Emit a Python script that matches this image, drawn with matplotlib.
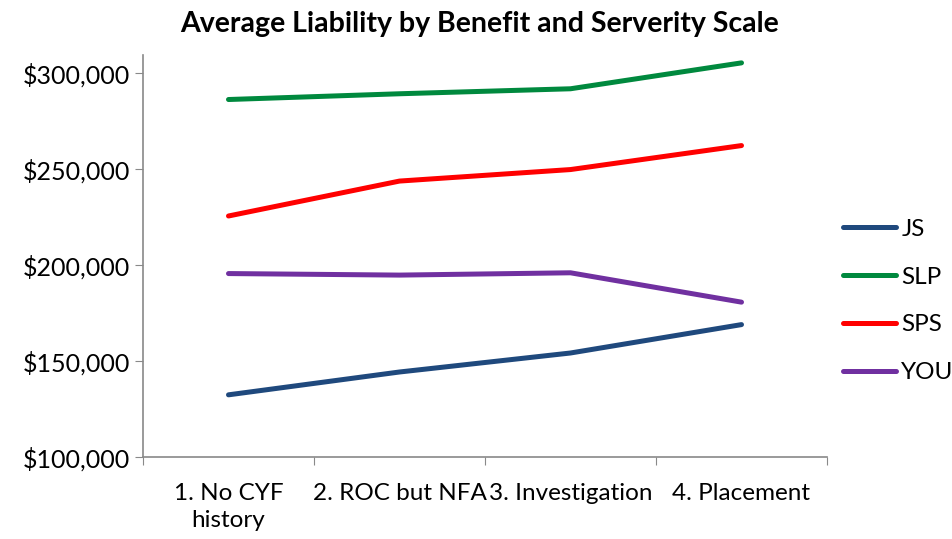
import matplotlib.pyplot as plt
from matplotlib.ticker import FuncFormatter

categories = ["1. No CYF\nhistory", "2. ROC but NFA", "3. Investigation", "4. Placement"]
js = [132400, 144300, 154200, 169000]
slp = [286300, 289300, 291900, 305400]
sps = [225600, 243800, 249800, 262300]
you = [195600, 194800, 196000, 180700]

series = [("JS", js, "#1f497d"), ("SLP", slp, "#00893e"),
          ("SPS", sps, "#ff0000"), ("YOU", you, "#7030a0")]

plt.rcParams['font.family'] = ['Lato', 'DejaVu Sans']

fig = plt.figure(figsize=(9.52, 5.39), dpi=100)
ax = fig.add_axes([143 / 952, 1 - 457 / 539, (827 - 143) / 952, (457 - 55) / 539])

x = range(len(categories))
for name, vals, col in series:
    ax.plot(x, vals, color=col, lw=3.6, solid_capstyle='round', label=name)

ax.set_xlim(-0.5, 3.5)
ax.set_ylim(100000, 309500)
ax.set_yticks([100000, 150000, 200000, 250000, 300000])
ax.yaxis.set_major_formatter(FuncFormatter(lambda v, p: f"${v:,.0f}"))
ax.set_xticks([-0.5, 0.5, 1.5, 2.5, 3.5])
ax.set_xticklabels([])
ax.set_xticks(list(x), minor=True)
ax.set_xticklabels(categories, minor=True, fontsize=17.5, linespacing=1.35)
ax.tick_params(axis='x', which='minor', length=0, pad=19)
ax.tick_params(axis='x', which='major', length=6, color='#898989')
ax.tick_params(axis='y', length=6, color='#898989', labelsize=18, pad=3)

for s in ['top', 'right']:
    ax.spines[s].set_visible(False)
for s in ['left', 'bottom']:
    ax.spines[s].set_color('#898989')
    ax.spines[s].set_linewidth(1.2)

fig.suptitle("Average Liability by Benefit and Serverity Scale", fontsize=20.5,
             fontweight='bold', x=480 / 952, y=1 - 11 / 539, va='top')

leg = fig.legend(loc='upper left', bbox_to_anchor=(821 / 952, 1 - 197 / 539), frameon=False,
                 fontsize=17.5, handlelength=2.2, handletextpad=0.2, labelspacing=1.1)

fig.savefig("out.png", dpi=100)
